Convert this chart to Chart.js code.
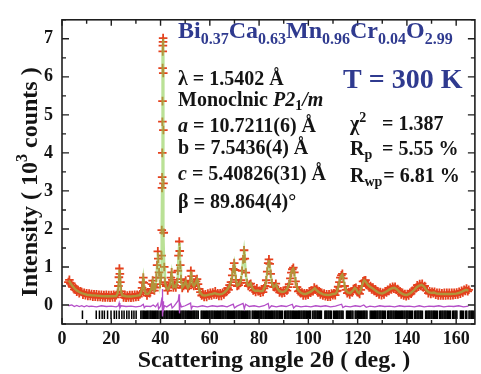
<!DOCTYPE html>
<html>
<head>
<meta charset="utf-8">
<script src="https://cdn.jsdelivr.net/npm/chart.js@4.4.1/dist/chart.umd.min.js"></script>
<style>
  html, body { margin: 0; padding: 0; background: #ffffff; }
  #wrap { width: 481px; height: 374px; }
</style>
</head>
<body>
<div id="wrap"><canvas id="c" width="481" height="374"></canvas></div>
<script>
// Rietveld refinement of Bi0.37Ca0.63Mn0.96Cr0.04O2.99 at 300 K
// intensities in units of 10^3 counts, angles in degrees 2-theta

const xTickLabels = [0, 20, 40, 60, 80, 100, 120, 140, 160];
const yTickLabels = [0, 1, 2, 3, 4, 5, 6, 7];

// measured pattern [2theta, intensity]
const observed = [
  [2.6,0.6],[3,0.66],[3.4,0.56],[3.8,0.57],[4.2,0.48],[4.6,0.5],[5,0.41],[5.5,0.44],[6,0.35],[6.5,0.39],
  [7,0.31],[7.5,0.36],[8,0.34],[8.5,0.27],[9,0.32],[9.5,0.26],[10,0.31],[10.5,0.24],[11,0.3],[11.5,0.24],
  [12,0.29],[12.5,0.22],[13,0.28],[13.5,0.22],[14,0.28],[14.5,0.21],[15,0.27],[15.5,0.21],[16,0.27],
  [16.5,0.2],[17,0.26],[17.5,0.2],[18,0.27],[18.5,0.2],[19,0.26],[19.5,0.19],[20,0.26],[20.5,0.2],
  [21,0.27],[21.5,0.2],[22,0.26],
  [22.6,0.32],[22.9,0.5],[23.1,0.73],[23.3,0.96],[23.5,0.82],[23.7,0.6],[24,0.36],[24.5,0.27],
  [25,0.2],[25.5,0.26],[26,0.19],[26.5,0.25],[27,0.2],[27.5,0.26],[28,0.19],[28.5,0.26],[29,0.2],
  [29.5,0.27],[30,0.21],[30.5,0.27],[31,0.22],[31.6,0.28],
  [32.1,0.33],[32.5,0.45],[32.8,0.6],[33,0.72],[33.2,0.58],[33.5,0.4],[34,0.32],[34.5,0.25],[35,0.32],
  [35.6,0.31],
  [36.2,0.42],[36.5,0.55],[36.8,0.64],[37.1,0.5],[37.5,0.38],[37.9,0.46],
  [38.3,0.72],[38.6,1.05],[38.9,1.41],[39.1,1.22],[39.4,0.86],[39.8,0.55],
  [40.2,0.72],[40.4,1.3],[40.5,1.97],[40.6,3.08],[40.65,3.36],[40.7,4.0],[40.75,4.82],[40.8,5.36],
  [40.85,6.23],[40.9,6.67],[40.95,6.82],[41.0,6.92],[41.05,7.02],[41.1,6.1],[41.15,4.6],[41.2,3.2],
  [41.3,1.9],[41.5,1.0],[41.8,0.6],
  [42.3,0.5],[42.9,0.38],[43.4,0.47],
  [43.9,0.55],[44.2,0.72],[44.5,0.86],[44.8,0.66],[45.2,0.46],[45.7,0.52],[46.2,0.46],
  [46.7,0.6],[47.0,0.9],[47.3,1.3],[47.6,1.67],[47.8,1.42],[48.0,1.05],[48.3,0.68],[48.8,0.45],
  [49.3,0.5],[49.8,0.58],[50.2,0.64],[50.6,0.52],[51.1,0.44],[51.6,0.5],
  [52.0,0.62],[52.3,0.9],[52.6,0.76],[53.0,0.55],[53.5,0.5],
  [54.0,0.55],[54.4,0.62],[54.8,0.68],[55.2,0.55],[55.7,0.42],
  [56.2,0.34],[56.7,0.25],[57.2,0.28],[57.7,0.21],[58.2,0.28],[58.7,0.21],[59.2,0.3],[59.7,0.25],
  [60.2,0.32],[60.7,0.25],[61.2,0.33],[61.7,0.28],[62.2,0.36],[62.7,0.27],[63.2,0.31],[63.7,0.24],
  [64.2,0.31],[64.7,0.24],[65.2,0.32],[65.7,0.28],[66.2,0.36],[66.7,0.34],[67.2,0.44],[67.6,0.4],[68,0.52],
  [68.6,0.6],[69.1,0.78],[69.5,0.95],[69.9,1.1],[70.2,0.92],[70.6,0.66],[71.1,0.5],[71.7,0.52],[72.2,0.58],
  [72.7,0.65],[73.1,0.9],[73.5,1.2],[73.9,1.44],[74.2,1.22],[74.6,0.85],[75.1,0.58],[75.6,0.5],
  [76.1,0.54],[76.6,0.56],[77.1,0.48],[77.6,0.38],[78.1,0.4],[78.6,0.34],[79.1,0.44],[79.6,0.36],
  [80.1,0.37],[80.6,0.32],[81.1,0.4],[81.6,0.34],[82.0,0.44],[82.4,0.5],
  [82.9,0.65],[83.3,0.88],[83.7,1.1],[84.0,1.2],[84.3,1.08],[84.7,0.82],[85.2,0.58],
  [85.8,0.48],[86.3,0.47],[86.8,0.56],[87.3,0.42],[87.8,0.4],[88.3,0.33],[88.8,0.36],[89.3,0.31],
  [89.8,0.37],[90.3,0.32],[90.8,0.4],[91.3,0.38],[91.7,0.47],
  [92.2,0.55],[92.7,0.7],[93.1,0.85],[93.5,0.94],[93.9,0.98],[94.3,0.86],[94.8,0.62],
  [95.4,0.47],[95.9,0.36],[96.4,0.38],[96.9,0.31],[97.4,0.33],[97.9,0.25],[98.4,0.31],[98.9,0.25],
  [99.4,0.31],[99.9,0.27],[100.4,0.36],[100.9,0.32],[101.4,0.38],[101.9,0.36],[102.4,0.46],[102.9,0.4],
  [103.4,0.42],[103.9,0.33],[104.4,0.36],[104.9,0.28],[105.4,0.32],[105.9,0.25],[106.4,0.3],[106.9,0.23],
  [107.4,0.28],[107.9,0.22],[108.4,0.28],[108.9,0.22],[109.4,0.3],[109.9,0.26],[110.4,0.31],[110.9,0.26],
  [111.4,0.36],[111.8,0.38],[112.1,0.48],
  [112.6,0.6],[113.0,0.72],[113.4,0.78],[113.8,0.82],[114.2,0.7],[114.7,0.5],
  [115.3,0.4],[115.8,0.31],[116.3,0.34],[116.8,0.28],[117.3,0.35],[117.8,0.33],[118.3,0.42],[118.8,0.44],
  [119.3,0.45],[119.8,0.34],[120.3,0.33],[120.8,0.29],[121.3,0.4],[121.7,0.5],[122.2,0.62],[122.7,0.64],
  [123.2,0.65],[123.7,0.53],[124.2,0.55],[124.7,0.46],[125.2,0.5],[125.7,0.41],[126.2,0.46],[126.7,0.37],
  [127.2,0.41],[127.7,0.32],[128.2,0.36],[128.7,0.28],[129.2,0.34],[129.7,0.26],[130.2,0.32],[130.7,0.28],
  [131.2,0.36],[131.7,0.33],[132.2,0.4],[132.7,0.37],[133.2,0.45],[133.7,0.41],[134.2,0.48],[134.7,0.43],
  [135.2,0.48],[135.7,0.4],[136.2,0.42],[136.7,0.33],[137.2,0.36],[137.7,0.28],[138.2,0.32],[138.7,0.25],
  [139.2,0.29],[139.7,0.23],[140.2,0.29],[140.7,0.25],[141.2,0.32],[141.7,0.3],[142.2,0.37],[142.7,0.37],
  [143.2,0.44],[143.7,0.44],[144.2,0.52],[144.7,0.48],[145.2,0.55],[145.7,0.5],[146.2,0.56],[146.7,0.46],
  [147.2,0.5],[147.7,0.39],[148.2,0.4],[148.7,0.31],[149.2,0.36],[149.7,0.29],[150.2,0.35],[150.7,0.31],
  [151.2,0.35],[151.7,0.27],[152.2,0.32],[152.7,0.25],[153.2,0.32],[153.7,0.25],[154.2,0.31],[154.7,0.25],
  [155.2,0.32],[155.7,0.25],[156.2,0.32],[156.7,0.26],[157.2,0.32],[157.7,0.25],[158.2,0.32],[158.7,0.26],
  [159.2,0.32],[159.7,0.27],[160.2,0.33],[160.7,0.28],[161.2,0.35],[161.7,0.3],[162.2,0.37],[162.7,0.33],
  [163.2,0.4],[163.7,0.37],[164.2,0.43],[164.7,0.36],[165.1,0.4]
];

// refined model profile [2theta, intensity]
const calculated = [
  [2.6,0.6],[3,0.62],[3.5,0.57],[4,0.52],[4.5,0.48],[5,0.44],[6,0.38],[7,0.34],[8,0.31],[9,0.29],[10,0.27],
  [12,0.255],[14,0.245],[16,0.235],[18,0.23],[20,0.23],[22,0.235],[22.6,0.31],[22.9,0.5],[23.1,0.72],
  [23.3,0.93],[23.5,0.8],[23.7,0.58],[24,0.35],[24.5,0.25],[26,0.23],[28,0.225],[30,0.24],[31.6,0.26],
  [32.1,0.33],[32.5,0.44],[32.8,0.59],[33,0.7],[33.2,0.57],[33.5,0.4],[34,0.3],[35,0.29],[35.6,0.34],
  [36.2,0.42],[36.5,0.54],[36.8,0.62],[37.1,0.5],[37.5,0.39],[37.9,0.46],[38.3,0.71],[38.6,1.04],
  [38.9,1.38],[39.1,1.2],[39.4,0.85],[39.8,0.55],[40.2,0.72],[40.4,1.3],[40.5,1.97],[40.6,3.08],
  [40.7,4.0],[40.8,5.36],[40.9,6.67],[41.0,6.95],[41.05,7.0],[41.1,6.1],[41.15,4.6],[41.2,3.2],[41.3,1.9],
  [41.5,1.0],[41.8,0.6],[42.3,0.47],[42.9,0.41],[43.4,0.45],[43.9,0.55],[44.2,0.71],[44.5,0.84],
  [44.8,0.66],[45.2,0.47],[45.7,0.5],[46.2,0.47],[46.7,0.6],[47.0,0.9],[47.3,1.28],[47.6,1.63],[47.8,1.4],
  [48.0,1.04],[48.3,0.67],[48.8,0.46],[49.3,0.5],[49.8,0.57],[50.2,0.62],[50.6,0.52],[51.1,0.45],[51.6,0.5],
  [52.0,0.61],[52.3,0.88],[52.6,0.75],[53.0,0.55],[53.5,0.5],[54.0,0.55],[54.4,0.61],[54.8,0.67],
  [55.2,0.55],[55.7,0.42],[56.2,0.32],[57,0.26],[58,0.25],[59,0.26],[60,0.28],[61,0.29],[62,0.31],
  [63,0.29],[64,0.28],[65,0.29],[66,0.33],[67,0.4],[68,0.5],[68.6,0.6],[69.1,0.77],[69.5,0.94],
  [69.9,1.08],[70.2,0.91],[70.6,0.66],[71.1,0.51],[71.7,0.53],[72.2,0.58],[72.7,0.65],[73.1,0.89],
  [73.5,1.18],[73.9,1.41],[74.2,1.2],[74.6,0.84],[75.1,0.58],[75.6,0.51],[76.1,0.52],[76.6,0.57],
  [77.1,0.46],[77.7,0.4],[78.5,0.37],[79.5,0.38],[80.5,0.36],[81.5,0.37],[82.4,0.49],[82.9,0.64],
  [83.3,0.87],[83.7,1.08],[84.0,1.18],[84.3,1.06],[84.7,0.81],[85.2,0.58],[85.8,0.47],[86.4,0.5],
  [86.9,0.54],[87.4,0.44],[88.2,0.37],[89.2,0.34],[90.2,0.35],[91.0,0.39],[91.6,0.46],[92.2,0.55],
  [92.7,0.7],[93.1,0.84],[93.5,0.93],[93.9,0.96],[94.3,0.85],[94.8,0.62],[95.4,0.45],[96.0,0.38],
  [97,0.32],[98,0.29],[99,0.29],[100,0.32],[101,0.35],[102.0,0.4],[102.6,0.44],[103.2,0.4],[104,0.35],
  [105,0.31],[106,0.28],[107,0.27],[108,0.26],[109,0.27],[110,0.29],[111,0.3],[111.5,0.33],[112.1,0.46],
  [112.6,0.6],[113.0,0.71],[113.4,0.77],[113.8,0.8],[114.2,0.69],[114.7,0.5],[115.3,0.38],[116,0.33],
  [117,0.31],[118.1,0.38],[118.8,0.45],[119.4,0.42],[120.0,0.34],[120.6,0.31],[121.2,0.38],[121.7,0.5],
  [122.2,0.59],[122.7,0.65],[123.2,0.62],[124,0.54],[125,0.48],[126,0.44],[127,0.39],[128,0.34],
  [129,0.31],[130,0.3],[131,0.33],[132,0.37],[133,0.41],[134,0.44],[135,0.45],[136,0.41],[137,0.34],
  [138,0.3],[139,0.27],[140,0.265],[141,0.29],[142,0.34],[143,0.4],[144,0.47],[145,0.51],[146,0.53],
  [147,0.48],[148,0.38],[149,0.33],[150,0.32],[151,0.33],[152,0.3],[153,0.295],[154,0.29],[156,0.29],
  [158,0.29],[160,0.3],[161,0.315],[162,0.335],[163,0.37],[164,0.4],[165,0.38]
];

// observed minus calculated [2theta, intensity]
const difference = [
  [2.6,-0.02],[4,0.0],[5,-0.04],[6,-0.01],[7,-0.04],[8,-0.02],[9,-0.05],[10,-0.02],[11,-0.04],[12,-0.03],
  [14,-0.05],[16,-0.02],[18,-0.04],[20,-0.03],[22,-0.05],[22.9,-0.02],[23.2,0.05],[23.5,-0.08],[24,-0.02],
  [26,-0.04],[28,-0.03],[30,-0.05],[32,-0.03],[33,0.02],[33.4,-0.07],[34,-0.03],[36,-0.04],[37,0.0],
  [38,-0.05],[38.9,0.04],[39.2,-0.1],[40,-0.03],[40.6,0.2],[40.75,0.42],[40.85,-0.3],[41.0,0.1],
  [41.2,-0.12],[41.6,-0.02],[42.5,-0.05],[44.3,0.03],[44.7,-0.08],[45.5,-0.03],[47.2,0.12],[47.5,0.28],
  [47.7,-0.22],[48.0,0.04],[48.5,-0.05],[50,-0.02],[52.2,0.05],[52.5,-0.1],[53,-0.03],[55,-0.05],
  [57,-0.02],[59,-0.05],[61,-0.02],[63,-0.04],[65,-0.02],[67,-0.05],[69.5,0.02],[70,-0.08],[71,-0.03],
  [73.5,0.04],[74,-0.1],[74.5,0.02],[76,-0.04],[78,-0.02],[80,-0.05],[82,-0.02],[83.7,0.04],[84.1,-0.09],
  [85,-0.02],[87,-0.05],[89,-0.02],[91,-0.04],[93.5,0.02],[94,-0.08],[95,-0.02],[97,-0.05],[99,-0.03],
  [101,-0.05],[103,-0.02],[105,-0.04],[107,-0.02],[109,-0.05],[111,-0.03],[113.5,0.02],[114,-0.07],
  [115,-0.03],[117,-0.05],[119,-0.02],[121,-0.04],[122.5,0.0],[123.5,-0.06],[125,-0.03],[127,-0.05],
  [129,-0.02],[131,-0.04],[133,-0.03],[135,-0.05],[137,-0.02],[139,-0.04],[141,-0.03],[143,-0.05],
  [145,-0.02],[147,-0.05],[149,-0.03],[151,-0.04],[153,-0.02],[155,-0.05],[157,-0.03],[159,-0.04],
  [161,-0.02],[163,-0.05],[165,-0.03]
];

// Bragg reflection positions (2theta)
const braggPositions = [
  8.3, 13.9, 15.2, 16.3, 17.2, 18.5, 19.9, 21.2, 22.1, 23.2, 24.3, 25.2, 26.3, 27.2, 28.3, 29.2, 30.1,
  32.0, 32.5, 33.0, 33.4, 33.9, 34.4, 34.8, 35.3, 35.8, 36.2, 36.7, 37.1, 37.6, 38.0, 38.5, 38.9, 39.4,
  40.1, 40.5, 40.9, 41.4, 41.8, 42.3, 42.6, 43.0, 43.5, 43.9, 44.4, 44.8, 45.1, 45.6, 46.0, 46.5, 46.9,
  47.3, 47.8, 48.2, 48.7, 49.1, 49.5, 50.0, 50.4, 50.9, 51.3, 51.7, 52.2, 52.6, 53.1, 53.5, 53.9, 54.4,
  54.8, 55.3, 56.5, 56.9, 57.4, 57.8, 58.3, 58.7, 59.1, 59.6, 60.0, 60.5, 60.9, 61.3, 61.8, 62.2, 62.7,
  63.1, 63.5, 64.0, 64.4, 64.9, 65.3, 65.7, 66.2, 66.6, 67.1, 67.5, 67.9, 68.4, 68.8, 69.3, 69.7, 70.1,
  70.6, 71.0, 71.5, 71.9, 72.3, 72.8, 73.2, 73.7, 74.1, 74.5, 75.0, 75.4, 75.9, 76.3, 77.2, 77.6, 78.1,
  78.5, 78.9, 79.4, 79.8, 80.3, 80.7, 81.1, 81.6, 82.0, 82.5, 82.9, 83.3, 83.8, 84.2, 84.7, 85.1, 85.5,
  86.0, 86.4, 86.9, 87.3, 87.7, 88.2, 88.6, 89.1, 89.5, 90.4, 90.8, 91.3, 91.7, 92.1, 92.6, 93.0, 93.5,
  93.9, 94.3, 94.8, 95.2, 95.7, 96.1, 96.5, 97.0, 97.4, 97.9, 98.3, 98.7, 99.2, 99.6, 100.1, 100.5, 100.9,
  101.8, 102.3, 102.7, 103.1, 103.6, 104.0, 104.5, 104.9, 105.3, 106.7, 107.1, 107.5, 108.0, 108.4,
  108.9, 109.3, 110.2, 110.6, 111.1, 111.5, 111.9, 112.4, 112.8, 113.3, 113.7, 114.1, 115.5, 115.9,
  116.3, 116.8, 117.2, 117.7, 118.1, 119.0, 119.4, 119.9, 120.3, 120.7, 121.2, 121.6, 122.1, 122.5,
  122.9, 123.4, 123.8, 125.1, 125.6, 126.0, 126.5, 126.9, 127.3, 127.8, 128.2, 128.7, 129.1, 129.5,
  130.0, 130.4, 130.9, 131.3, 132.2, 132.6, 133.1, 133.5, 133.9, 134.4, 134.8, 135.3, 135.7, 136.1,
  136.6, 137.0, 137.5, 137.9, 138.3, 138.8, 139.2, 139.7, 140.1, 140.5, 141.0, 141.4, 141.9, 142.3,
  143.2, 143.6, 144.1, 144.5, 144.9, 145.4, 145.8, 146.3, 147.6, 148.0, 148.5, 148.9, 149.3, 149.8,
  150.2, 150.7, 151.1, 151.5, 152.0, 152.4, 153.3, 153.7, 154.2, 154.6, 155.1, 155.5, 155.9, 156.4,
  156.8, 157.3, 157.7, 158.6, 159.0, 159.5, 159.9, 160.3, 161.7, 162.1, 162.5, 163.0, 163.9, 164.3,
  165.2, 165.6, 166.1, 166.5, 166.9, 167.4
];

const SERIF = "'Liberation Serif', 'Times New Roman', serif";
const BLUE = '#2f3a8f';
const INK = '#141414';

const toXY = (pairs) => pairs.map(([x, y]) => ({ x, y }));

// draws a sequence of differently styled text pieces left to right
function drawRuns(ctx, x, y, runs) {
  for (const r of runs) {
    ctx.font = r.font;
    ctx.fillStyle = r.color || INK;
    ctx.fillText(r.text, x, y + (r.dy || 0));
    x += ctx.measureText(r.text).width + (r.gap || 0);
  }
  return x;
}
function runsWidth(ctx, runs) {
  let w = 0;
  for (const r of runs) { ctx.font = r.font; w += ctx.measureText(r.text).width + (r.gap || 0); }
  return w;
}

const B = (s) => `bold ${s}px ${SERIF}`;
const BI = (s) => `italic bold ${s}px ${SERIF}`;

const frameAndText = {
  id: 'frameAndText',
  afterDatasetsDraw(chart) {
    const { ctx, chartArea: a, scales: { x, y } } = chart;
    ctx.save();
    // frame
    ctx.strokeStyle = '#1e1e1e';
    ctx.lineWidth = 1.6;
    ctx.strokeRect(a.left, a.top, a.right - a.left, a.bottom - a.top);
    // inward tick marks
    ctx.lineWidth = 1.4;
    ctx.beginPath();
    for (let v = 0; v <= 160; v += 10) {
      const px = x.getPixelForValue(v);
      const len = v % 20 === 0 ? 6 : 4;
      ctx.moveTo(px, a.bottom); ctx.lineTo(px, a.bottom - len);
      ctx.moveTo(px, a.top); ctx.lineTo(px, a.top + len);
    }
    for (let v = -0.5; v <= 7.5; v += 0.5) {
      const py = y.getPixelForValue(v);
      const len = Number.isInteger(v) ? 7 : 4;
      ctx.moveTo(a.left, py); ctx.lineTo(a.left + len, py);
      ctx.moveTo(a.right, py); ctx.lineTo(a.right - len, py);
    }
    ctx.stroke();

    ctx.textBaseline = 'alphabetic';
    ctx.textAlign = 'left';

    // composition
    drawRuns(ctx, 178, 38, [
      { text: 'Bi', font: B(24), color: BLUE },
      { text: '0.37', font: B(16), color: BLUE, dy: 6 },
      { text: 'Ca', font: B(24), color: BLUE },
      { text: '0.63', font: B(16), color: BLUE, dy: 6 },
      { text: 'Mn', font: B(24), color: BLUE },
      { text: '0.96', font: B(16), color: BLUE, dy: 6 },
      { text: 'Cr', font: B(24), color: BLUE },
      { text: '0.04', font: B(16), color: BLUE, dy: 6 },
      { text: 'O', font: B(24), color: BLUE },
      { text: '2.99', font: B(16), color: BLUE, dy: 6 }
    ]);
    drawRuns(ctx, 343, 88, [{ text: 'T = 300 K', font: B(28), color: BLUE }]);

    // lattice parameters
    const f = B(20), fi = BI(20), fs = B(14);
    drawRuns(ctx, 178, 85, [{ text: 'λ = 1.5402 Å', font: f }]);
    drawRuns(ctx, 178, 106, [
      { text: 'Monoclnic ', font: f },
      { text: 'P', font: fi },
      { text: '2', font: fi },
      { text: '1', font: fs, dy: 4 },
      { text: '/m', font: fi }
    ]);
    drawRuns(ctx, 178, 132, [{ text: 'a', font: fi }, { text: ' = 10.7211(6) Å', font: f }]);
    drawRuns(ctx, 178, 154, [{ text: 'b = 7.5436(4) Å', font: f }]);
    drawRuns(ctx, 178, 180, [{ text: 'c', font: fi }, { text: ' = 5.40826(31) Å', font: f }]);
    drawRuns(ctx, 178, 208, [{ text: 'β = 89.864(4)°', font: f }]);

    // agreement factors
    drawRuns(ctx, 350, 130, [{ text: 'χ', font: f }, { text: '2', font: fs, dy: -8 }]);
    drawRuns(ctx, 382, 130, [{ text: '= 1.387', font: f }]);
    drawRuns(ctx, 350, 155, [{ text: 'R', font: f }, { text: 'p', font: fs, dy: 4 }]);
    drawRuns(ctx, 382, 155, [{ text: '= 5.55 %', font: f }]);
    drawRuns(ctx, 350, 182, [{ text: 'R', font: f }, { text: 'wp', font: fs, dy: 4, gap: 1 },
                             { text: '= 6.81 %', font: f }]);

    // axis titles
    const xRuns = [{ text: 'Scattering angle 2θ ( deg. )', font: B(24) }];
    drawRuns(ctx, 274 - runsWidth(ctx, xRuns) / 2, 367, xRuns);
    const yRuns = [
      { text: 'Intensity ( 10', font: B(24) },
      { text: '3', font: B(16), dy: -10 },
      { text: ' counts )', font: B(24) }
    ];
    ctx.translate(37, 182);
    ctx.rotate(-Math.PI / 2);
    drawRuns(ctx, -runsWidth(ctx, yRuns) / 2, 0, yRuns);
    ctx.restore();
  }
};

Chart.defaults.font.family = SERIF;

new Chart(document.getElementById('c'), {
  type: 'scatter',
  data: {
    datasets: [
      {
        label: 'Calculated',
        data: toXY(calculated),
        showLine: true,
        pointRadius: 0,
        borderColor: 'rgba(140, 205, 80, 0.6)',
        borderWidth: 2.4,
        tension: 0,
        order: 0
      },
      {
        label: 'Observed',
        data: toXY(observed),
        showLine: false,
        pointStyle: 'cross',
        pointRadius: 4.3,
        pointBorderWidth: 1.8,
        borderColor: '#e5401d',
        backgroundColor: '#e5401d',
        order: 1
      },
      {
        label: 'Difference',
        data: toXY(difference),
        showLine: true,
        pointRadius: 0,
        borderColor: '#b44ec8',
        borderWidth: 1.3,
        tension: 0,
        order: 3
      },
      {
        label: 'Bragg positions',
        data: braggPositions.map((x) => ({ x, y: -0.255 })),
        showLine: false,
        pointStyle: 'line',
        rotation: 90,
        pointRadius: 4.3,
        pointBorderWidth: 1.5,
        borderColor: '#000000',
        order: 4
      }
    ]
  },
  options: {
    responsive: false,
    animation: false,
    devicePixelRatio: 1,
    layout: { padding: { top: 13, right: 0, bottom: 0, left: 0 } },
    plugins: { legend: { display: false }, tooltip: { enabled: false }, title: { display: false } },
    scales: {
      x: {
        type: 'linear',
        min: 0,
        max: 167.6,
        afterBuildTicks: (s) => { s.ticks = xTickLabels.map((v) => ({ value: v })); },
        afterFit: (s) => { s.height = 50; },
        grid: { display: false, drawTicks: false },
        border: { display: false },
        ticks: { color: INK, font: { size: 18, weight: 'bold' }, padding: 5, maxRotation: 0, autoSkip: false }
      },
      y: {
        type: 'linear',
        min: -0.5,
        max: 7.5,
        afterBuildTicks: (s) => { s.ticks = yTickLabels.map((v) => ({ value: v })); },
        afterFit: (s) => { s.width = 62; },
        grid: { display: false, drawTicks: false },
        border: { display: false },
        ticks: { color: INK, font: { size: 18, weight: 'bold' }, padding: 9 }
      }
    }
  },
  plugins: [frameAndText]
});
</script>
</body>
</html>
